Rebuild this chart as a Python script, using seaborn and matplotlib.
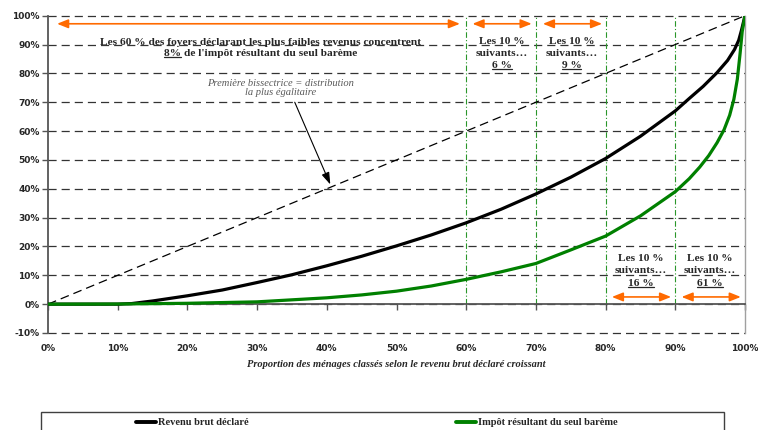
import matplotlib
matplotlib.use("Agg")
import matplotlib.pyplot as plt
import seaborn as sns
import pandas as pd
import numpy as np
from matplotlib.lines import Line2D
from matplotlib.patches import Rectangle

# ---- data ----
x_revenu = [0, 5, 10, 12, 15, 20, 25, 30, 35, 40, 45, 50, 55, 60, 65, 70, 75, 80, 85, 90, 92, 94, 96, 97.5, 98.5, 99.1, 99.5, 100]
y_revenu = [0, 0, 0, 0.2, 1.1, 2.9, 4.9, 7.5, 10.2, 13.3, 16.6, 20.2, 24.0, 28.2, 32.9, 38.2, 44.0, 50.5, 58.2, 67.0, 71.3, 75.5, 80.3, 84.5, 88.3, 91.5, 95.0, 100]
x_impot = [0, 10, 20, 30, 40, 45, 50, 55, 60, 65, 70, 75, 80, 85, 90, 92, 93.5, 94.8, 96, 97, 97.8, 98.4, 98.9, 99.3, 99.6, 100]
y_impot = [0, 0.05, 0.3, 0.8, 2.2, 3.2, 4.5, 6.3, 8.6, 11.2, 14.1, 18.8, 23.6, 30.6, 39.0, 43.5, 47.5, 51.5, 56.0, 60.5, 65.5, 71.0, 78.0, 87.0, 94.5, 100]
series_names = ["Revenu brut déclaré", "Impôt résultant du seul barème"]
y_ticks = [-10, 0, 10, 20, 30, 40, 50, 60, 70, 80, 90, 100]
x_ticks = [0, 10, 20, 30, 40, 50, 60, 70, 80, 90, 100]
decile_lines = [60, 70, 80, 90]
top_spans = [(1.3, 59.1), (60.9, 69.4), (71.0, 79.5)]
bottom_spans = [(80.9, 89.4), (90.9, 99.4)]
group_share = ["8%", "6 %", "9 %", "16 %", "61 %"]

df = pd.concat([
    pd.DataFrame({"x": x_revenu, "y": y_revenu, "serie": series_names[0]}),
    pd.DataFrame({"x": x_impot, "y": y_impot, "serie": series_names[1]}),
])

sns.set_theme(style="white")
plt.rcParams["font.family"] = ["DejaVu Sans"]

W, H = 758, 430
fig = plt.figure(figsize=(W / 100, H / 100), dpi=100)
ax = fig.add_axes([48 / W, 1 - 333 / H, (745 - 48) / W, (333 - 15.7) / H])

GREEN = "#008000"
palette = {series_names[0]: "black", series_names[1]: GREEN}

# gridlines (dashed) at every tick
for v in y_ticks:
    ax.axhline(v, color="#333333", lw=0.9, linestyle=(0, (6.5, 4)), zorder=1, clip_on=False)

# decile separators
for v in decile_lines:
    ax.plot([v, v], [0, 100], color="#2A962A", lw=0.8, linestyle=(0, (5, 2, 1, 2)), zorder=1)

# diagonal
ax.plot([0, 100], [0, 100], color="black", lw=0.9, linestyle=(0, (7, 4)), zorder=2)

sns.lineplot(data=df, x="x", y="y", hue="serie", palette=palette, lw=2.3,
             ax=ax, legend=False, zorder=3, sort=False, estimator=None)

ax.set_xlim(0, 100)
ax.set_ylim(-10, 100)
ax.set_xlabel("")
ax.set_ylabel("")

# spines
ax.spines["top"].set_visible(False)
ax.spines["right"].set_color("#A0A0A0")
ax.spines["right"].set_linewidth(1.0)
ax.spines["left"].set_color("#555555")
ax.spines["left"].set_linewidth(1.3)
ax.spines["bottom"].set_position(("data", 0))
ax.spines["bottom"].set_color("#555555")
ax.spines["bottom"].set_linewidth(1.3)

ax.set_yticks(y_ticks)
ax.set_yticklabels([f"{v}%" for v in y_ticks], fontsize=6.5, fontweight="bold")
ax.tick_params(axis="y", direction="out", length=4, width=1, color="#555555", left=True, pad=2)
ax.set_xticks(x_ticks)
ax.tick_params(axis="x", direction="out", length=4, width=1, color="#555555", bottom=True,
               labelbottom=False)

sec = ax.secondary_xaxis("bottom")
sec.set_xticks(x_ticks)
sec.set_xticklabels([f"{v}%" for v in x_ticks], fontsize=6.5, fontweight="bold")
sec.tick_params(length=0, pad=8)
sec.spines["bottom"].set_visible(False)
sec.set_xlabel("Proportion des ménages classés selon le revenu brut déclaré croissant",
               fontsize=7.5, fontweight="bold", fontstyle="italic", family="Liberation Serif",
               labelpad=5)

# orange arrows
ORANGE = "#FF6A00"
arrow_kw = dict(arrowstyle="<|-|>,head_length=0.55,head_width=0.22", color=ORANGE, lw=1.2,
                shrinkA=0, shrinkB=0)
for a, b in top_spans:
    ax.annotate("", xy=(a, 97.2), xytext=(b, 97.2), arrowprops=arrow_kw, zorder=4)
for a, b in bottom_spans:
    ax.annotate("", xy=(a, 2.5), xytext=(b, 2.5), arrowprops=arrow_kw, zorder=4)

TXT = "#262626"
fkw = dict(family="Liberation Serif", fontweight="bold", fontsize=8.2, color=TXT, ha="center", va="center", zorder=5)

ax.text(30.5, 90.6, "Les 60 % des foyers déclarant les plus faibles revenus concentrent", **fkw)
t_share0 = ax.text(30.5, 86.8, f"{group_share[0]} de l'impôt résultant du seul barème", **fkw)

share_texts = []
for cx, ys, share in [(65.1, (91.0, 86.8, 82.6), group_share[1]),
                      (75.1, (91.0, 86.8, 82.6), group_share[2]),
                      (85.1, (15.9, 11.6, 7.2), group_share[3]),
                      (95.0, (15.9, 11.6, 7.2), group_share[4])]:
    ax.text(cx, ys[0], "Les 10 %", **fkw)
    ax.text(cx, ys[1], "suivants…", **fkw)
    share_texts.append(ax.text(cx, ys[2], share, **fkw))

# bisectrice note
ax.text(33.4, 76.6, "Première bissectrice = distribution", family="Liberation Serif",
        fontstyle="italic", fontsize=7.6, color="#595959", ha="center", va="center")
ax.text(33.4, 73.3, "la plus égalitaire", family="Liberation Serif",
        fontstyle="italic", fontsize=7.6, color="#595959", ha="center", va="center")
ax.annotate("", xy=(40.5, 41.5), xytext=(35.4, 70.0),
            arrowprops=dict(arrowstyle="-|>,head_length=0.6,head_width=0.2", color="black", lw=0.8,
                            shrinkA=0, shrinkB=0))

# underlines
fig.canvas.draw()
r = fig.canvas.get_renderer()

def underline(t, prefix=None):
    bb = t.get_window_extent(r)
    x0 = bb.x0
    if prefix is None:
        x1 = bb.x1
    else:
        tmp = ax.text(0, 0, prefix, fontproperties=t.get_fontproperties())
        x1 = x0 + tmp.get_window_extent(r).width
        tmp.remove()
    y = bb.y0 + 1.0
    fig.add_artist(Line2D([x0 / W, x1 / W], [y / H, y / H], transform=fig.transFigure,
                          color=TXT, lw=0.9))

underline(t_share0, group_share[0])
for t in share_texts:
    underline(t)

# legend box
fig.add_artist(Rectangle((40.7 / W, -0.05), (724 - 40.7) / W, 0.05 + (430 - 411.7) / H,
                         transform=fig.transFigure, fill=False, edgecolor="#404040", lw=1.0))
handles = [Line2D([], [], color="black", lw=2.8), Line2D([], [], color=GREEN, lw=2.8)]
fig.legend(handles, series_names, loc="center left", bbox_to_anchor=(136 / W, 1 - 422.7 / H),
           ncol=2, frameon=False, handlelength=1.9, handletextpad=0.2, columnspacing=19.9,
           prop={"family": "Liberation Serif", "weight": "bold", "size": 7.5}, borderaxespad=0,
           borderpad=0)

fig.savefig("out.png", dpi=100)
